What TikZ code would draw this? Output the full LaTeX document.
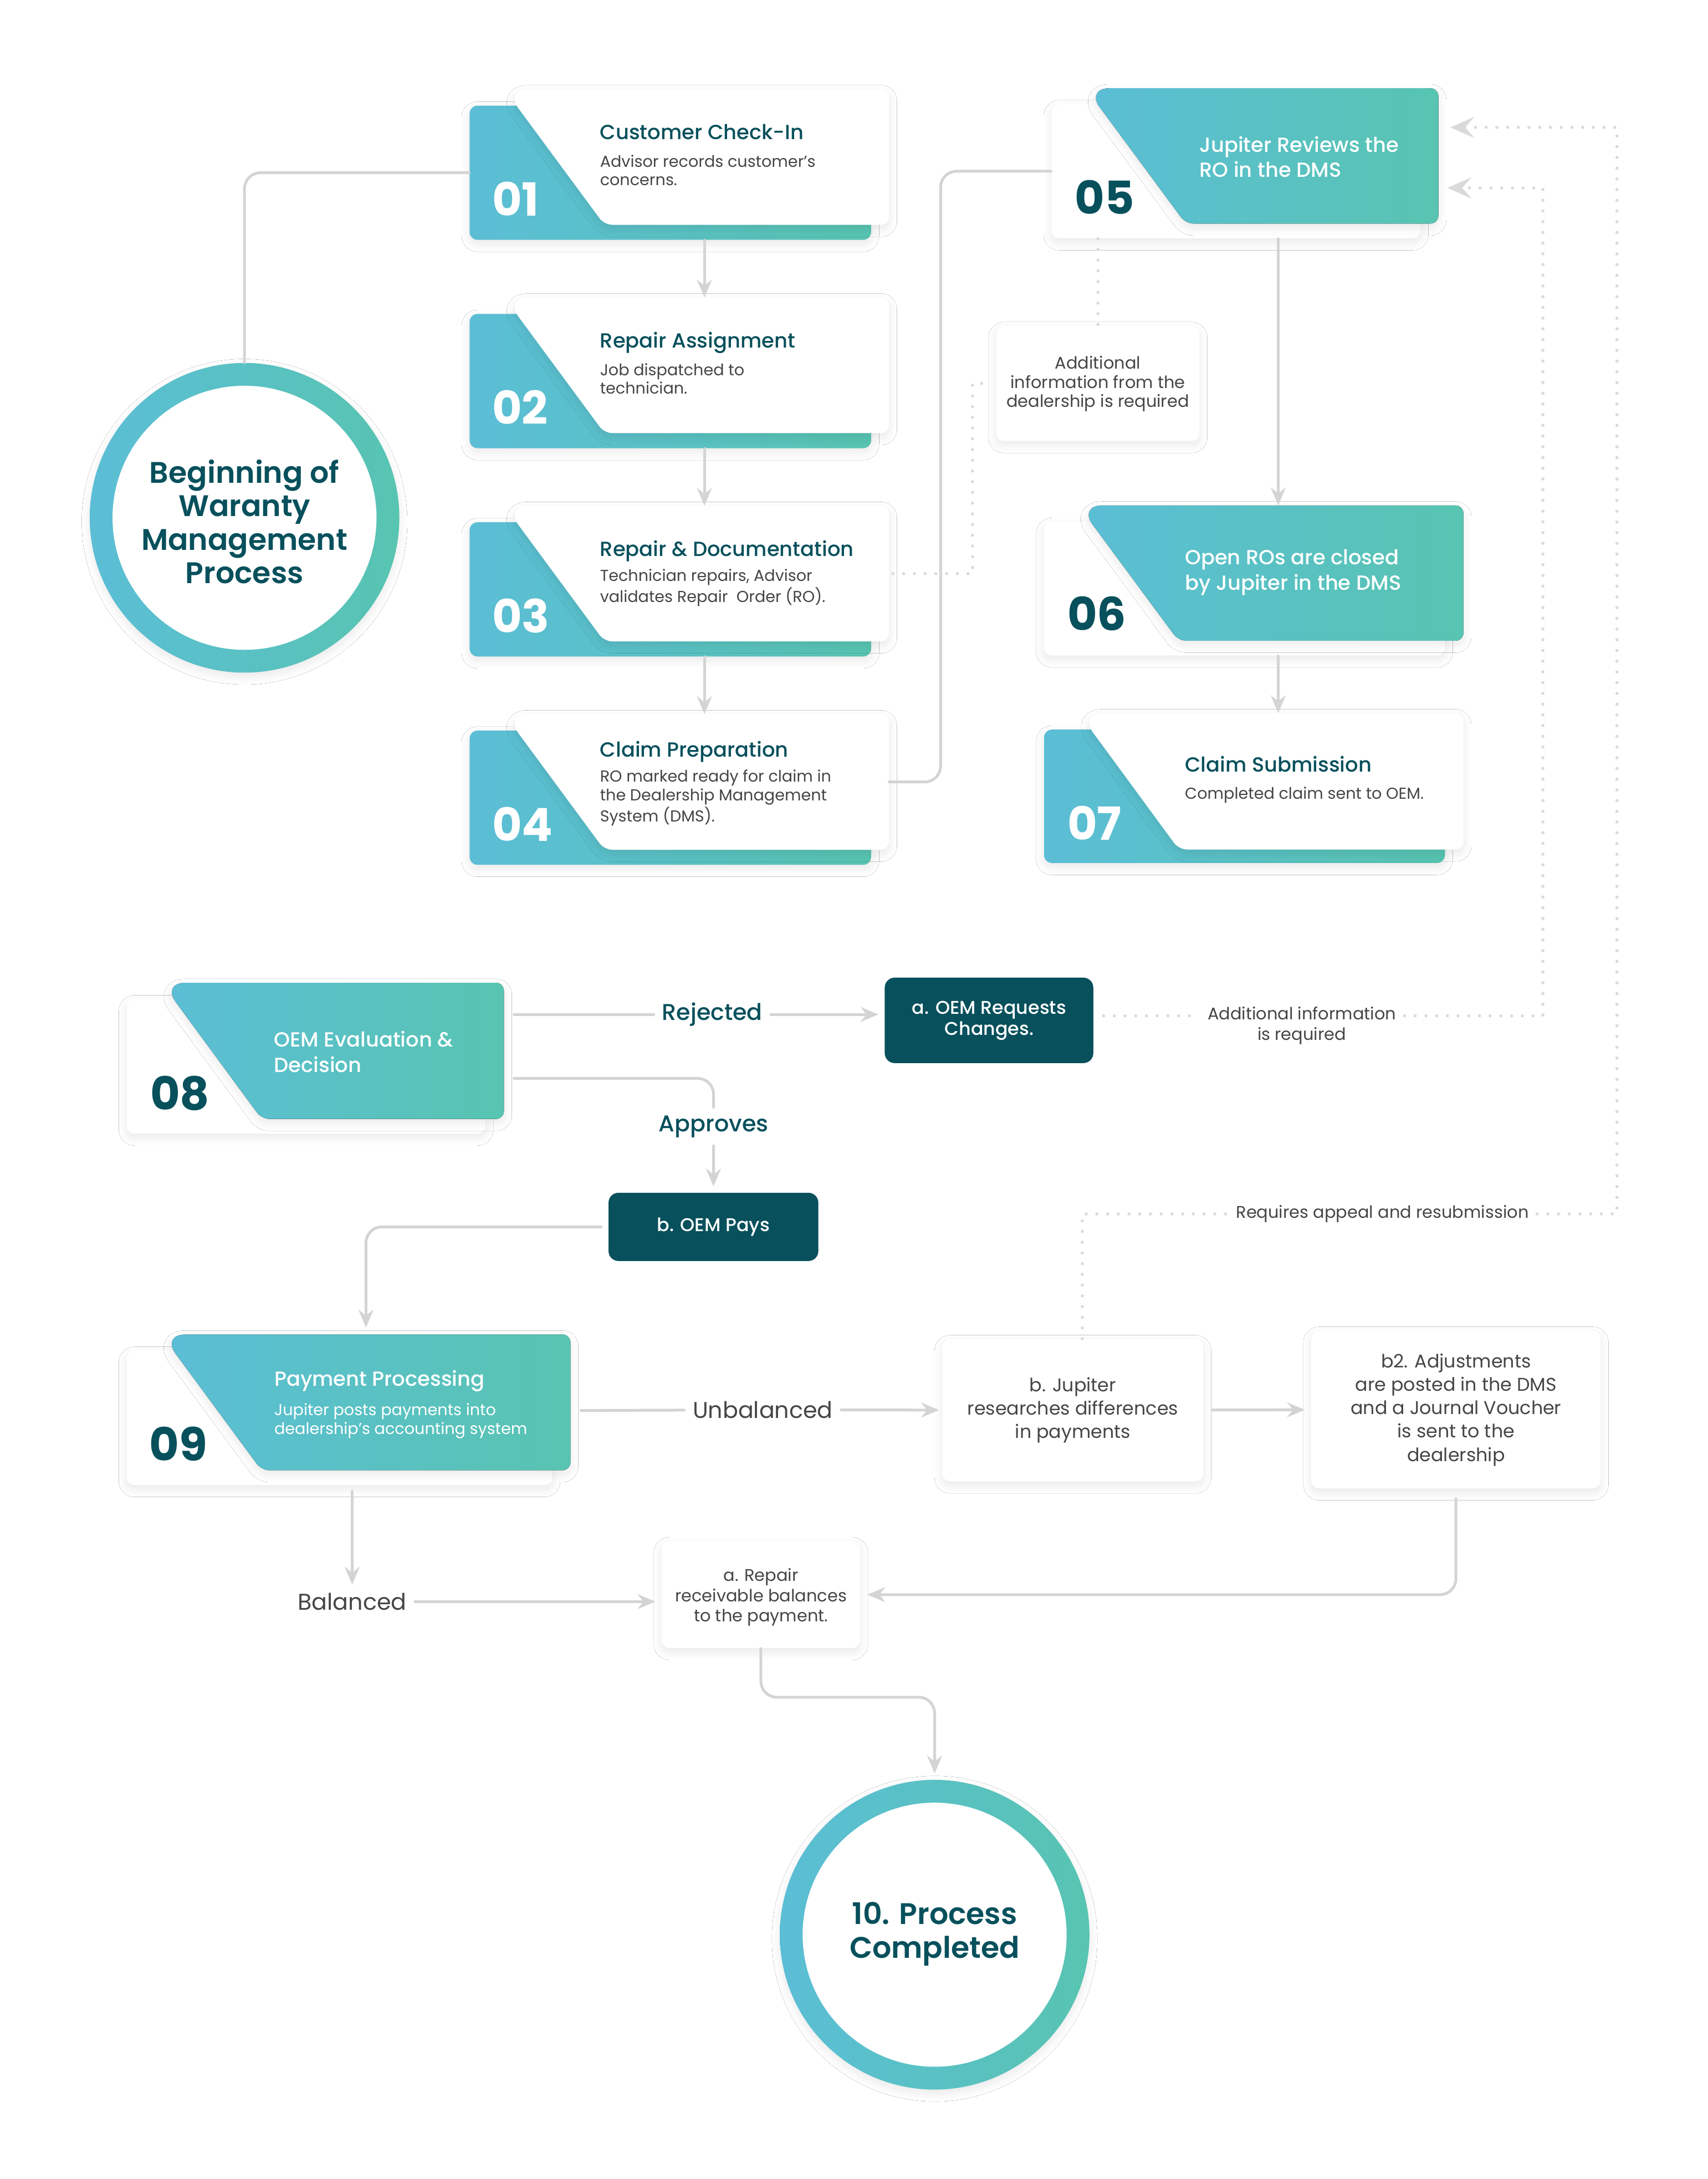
\documentclass[tikz,border=0pt]{standalone}
\usepackage{fontspec}
\setmainfont{Poppins}
\newfontfamily\medfont{Poppins Medium}
\newfontfamily\semifont{Poppins SemiBold}
\usepackage{tikz}
\usetikzlibrary{calc,positioning,fit,arrows.meta,shadows.blur}
\definecolor{FlowBlue}{HTML}{5BBED6}
\definecolor{FlowGreen}{HTML}{58C4B1}
\definecolor{FlowDark}{HTML}{07505C}
\definecolor{FlowText}{HTML}{454545}
\definecolor{FlowLine}{HTML}{D4D4D4}
\definecolor{FlowDot}{HTML}{DADADA}

\begin{document}
\begin{tikzpicture}[x=0.7pt,y=-0.7pt,line cap=round,line join=round,
  softshadow/.style={blur shadow={shadow xshift=0pt,shadow yshift=-2pt,shadow blur radius=4pt,shadow blur steps=10,shadow opacity=9}},
  backbar/.style={inner sep=0,rounded corners=4pt,left color=FlowBlue,right color=FlowGreen,softshadow},
  backcard/.style={inner sep=0,rounded corners=4pt,fill=white,softshadow},
  slotbox/.style={inner sep=0},
  facewhite/.style={fill=white,softshadow},
  faceteal/.style={left color=FlowBlue,right color=FlowGreen,softshadow},
  num/.style={anchor=base west,inner sep=0,font=\bfseries\fontsize{23}{23}\selectfont},
  ttl/.style={anchor=base west,inner sep=0,align=left,font=\medfont\fontsize{10.3}{12.7}\selectfont},
  desc/.style={anchor=base west,inner sep=0,align=left,font=\fontsize{8}{9.4}\selectfont},
  ringnode/.style={circle,inner sep=0,minimum size=156pt,left color=FlowBlue,right color=FlowGreen,softshadow},
  hub/.style={circle,inner sep=0,minimum size=133pt,fill=white},
  hubtxt/.style={anchor=base,inner sep=0,align=center,text=FlowDark,font=\semifont\fontsize{15}{16.9}\selectfont},
  darkbox/.style={inner sep=0,rounded corners=5pt,fill=FlowDark},
  darktxt/.style={anchor=base,inner sep=0,align=center,text=white,font=\medfont\fontsize{9.3}{10.6}\selectfont},
  whitebox/.style={inner sep=0,rounded corners=4pt,fill=white,softshadow},
  boxtxt/.style={anchor=base,inner sep=0,align=center,text=FlowText},
  lbl/.style={inner sep=4pt,text=FlowDark,font=\medfont\fontsize{11.5}{13}\selectfont},
  lbltwo/.style={inner sep=4pt,text=FlowText,font=\fontsize{11.5}{13}\selectfont},
  note/.style={inner sep=4pt,text=FlowText,align=center,font=\fontsize{8.5}{10.2}\selectfont},
  link/.style={draw=FlowLine,line width=1.4pt},
  arrow/.style={link,-{Stealth[length=9pt,width=7.5pt,inset=3pt]}},
  dots/.style={draw=FlowDot,line width=1.6pt,dash pattern=on 0pt off 5.4pt},
  dotarrow/.style={dots,-{Stealth[length=12pt,width=10.5pt,inset=4.5pt]}}]
  \fill[white] (0,0) rectangle (1229,1568);
  \useasboundingbox (0,0) rectangle (1229,1568);

  % start
  \node[ringnode] (start) at (176,372.6) {};
  \node[hub] (starthub) at (start) {};
  \node[hubtxt] (starttxt) at (176,419.9) {Beginning of\\Waranty\\Management\\Process};

  % left column
  \node[backbar,fit={(338,76) (627,172.6)}] (b1) {};
  \node[slotbox,fit={(363.3,64.5) (639.6,161.5)}] (f1) {};
  \fill[facewhite] ($(f1.north west)!.5!(f1.north east)$) [rounded corners=4pt] -- (f1.north east) -- (f1.south east) -- ($(f1.south west)+(72,0)$) [rounded corners=12pt] -- (f1.north west) [rounded corners=8pt] -- cycle;
  \node[num,white] (n1) at (354,155.5) {01};
  \node[ttl,FlowDark] (t1) at (431.6,100.5) {Customer Check-In};
  \node[desc,FlowText] (d1) at (431.6,133.6) {Advisor records customer’s\\concerns.};

  \node[backbar,fit={(338,225.9) (627,322.5)}] (b2) {};
  \node[slotbox,fit={(363.3,214.4) (639.6,311.4)}] (f2) {};
  \fill[facewhite] ($(f2.north west)!.5!(f2.north east)$) [rounded corners=4pt] -- (f2.north east) -- (f2.south east) -- ($(f2.south west)+(72,0)$) [rounded corners=12pt] -- (f2.north west) [rounded corners=8pt] -- cycle;
  \node[num,white] (n2) at (354,305.4) {02};
  \node[ttl,FlowDark] (t2) at (431.6,250.4) {Repair Assignment};
  \node[desc,FlowText] (d2) at (431.6,283.5) {Job dispatched to\\technician.};

  \node[backbar,fit={(338,375.8) (627,472.4)}] (b3) {};
  \node[slotbox,fit={(363.3,364.3) (639.6,461.3)}] (f3) {};
  \fill[facewhite] ($(f3.north west)!.5!(f3.north east)$) [rounded corners=4pt] -- (f3.north east) -- (f3.south east) -- ($(f3.south west)+(72,0)$) [rounded corners=12pt] -- (f3.north west) [rounded corners=8pt] -- cycle;
  \node[num,white] (n3) at (354,455.3) {03};
  \node[ttl,FlowDark] (t3) at (431.6,400.3) {Repair \& Documentation};
  \node[desc,FlowText] (d3) at (431.6,433.4) {Technician repairs, Advisor\\validates Repair \ Order (RO).};

  \node[backbar,fit={(338,525.7) (627,622.3)}] (b4) {};
  \node[slotbox,fit={(363.3,514.2) (639.6,611.2)}] (f4) {};
  \fill[facewhite] ($(f4.north west)!.5!(f4.north east)$) [rounded corners=4pt] -- (f4.north east) -- (f4.south east) -- ($(f4.south west)+(72,0)$) [rounded corners=12pt] -- (f4.north west) [rounded corners=8pt] -- cycle;
  \node[num,white] (n4) at (354,605.2) {04};
  \node[ttl,FlowDark] (t4) at (431.6,544.5) {Claim Preparation};
  \node[desc,FlowText] (d4) at (431.6,591.4) {RO marked ready for claim in\\the Dealership Management\\System (DMS).};

  % right column
  \node[backcard,fit={(756.8,75) (1022.4,171.5)}] (b5) {};
  \node[slotbox,fit={(781.7,63.8) (1035,160.6)}] (f5) {};
  \fill[faceteal] ($(f5.north west)!.5!(f5.north east)$) [rounded corners=4pt] -- (f5.north east) -- (f5.south east) -- ($(f5.south west)+(72,0)$) [rounded corners=12pt] -- (f5.north west) [rounded corners=8pt] -- cycle;
  \node[num,FlowDark] (n5) at (773.5,154.2) {05};
  \node[ttl,white] (t5) at (863,127.6) {Jupiter Reviews the\\RO in the DMS};

  \node[backcard,fit={(751.5,375.5) (1040,471.7)}] (b6) {};
  \node[slotbox,fit={(776.5,364) (1053,460.8)}] (f6) {};
  \fill[faceteal] ($(f6.north west)!.5!(f6.north east)$) [rounded corners=4pt] -- (f6.north east) -- (f6.south east) -- ($(f6.south west)+(72,0)$) [rounded corners=12pt] -- (f6.north west) [rounded corners=8pt] -- cycle;
  \node[num,FlowDark] (n6) at (768,453.8) {06};
  \node[ttl,white] (t6) at (852.6,424.6) {Open ROs are closed\\by Jupiter in the DMS};

  \node[backbar,fit={(751.5,525) (1040,621)}] (b7) {};
  \node[slotbox,fit={(776.8,513.5) (1053,611)}] (f7) {};
  \fill[facewhite] ($(f7.north west)!.5!(f7.north east)$) [rounded corners=4pt] -- (f7.north east) -- (f7.south east) -- ($(f7.south west)+(72,0)$) [rounded corners=12pt] -- (f7.north west) [rounded corners=8pt] -- cycle;
  \node[num,white] (n7) at (768,604.5) {07};
  \node[ttl,FlowDark] (t7) at (852.6,555.5) {Claim Submission};
  \node[desc,FlowText] (d7) at (852.6,575) {Completed claim sent to OEM.};

  \node[whitebox,fit={(717.2,234.6) (863.3,317.4)}] (dealerinfo) {};
  \node[boxtxt,font=\fontsize{8.5}{9.6}\selectfont] (dealertxt) at (790.2,293) {Additional\\information from the\\dealership is required};

  % decision
  \node[backcard,fit={(91.3,719) (349.3,815.8)}] (b8) {};
  \node[slotbox,fit={(116.6,707.5) (362.4,804.9)}] (f8) {};
  \fill[faceteal] ($(f8.north west)!.5!(f8.north east)$) [rounded corners=4pt] -- (f8.north east) -- (f8.south east) -- ($(f8.south west)+(72,0)$) [rounded corners=12pt] -- (f8.north west) [rounded corners=8pt] -- cycle;
  \node[num,FlowDark] (n8) at (107.9,798.6) {08};
  \node[ttl,white] (t8) at (197,771.6) {OEM Evaluation \&\\Decision};

  \node[darkbox,fit={(636.8,703.5) (786.9,765)}] (oemreq) {};
  \node[darktxt] (oemreqtxt) at (712,744.9) {a. OEM Requests\\Changes.};
  \node[darkbox,fit={(438,858.3) (589,907.4)}] (oempay) {};
  \node[darktxt] (oempaytxt) at (513.5,886.3) {b. OEM Pays};
  \node[note,anchor=base] (addlbl) at (937,748.3) {Additional information\\is required};
  \node[note] (appeallbl) at (995,873.5) {Requires appeal and resubmission};

  % payment
  \node[backcard,fit={(91.2,972) (397.5,1068.6)}] (b9) {};
  \node[slotbox,fit={(116.5,960.6) (410.3,1057.7)}] (f9) {};
  \fill[faceteal] ($(f9.north west)!.5!(f9.north east)$) [rounded corners=4pt] -- (f9.north east) -- (f9.south east) -- ($(f9.south west)+(72,0)$) [rounded corners=12pt] -- (f9.north west) [rounded corners=8pt] -- cycle;
  \node[num,FlowDark] (n9) at (107.2,1051.3) {09};
  \node[ttl,white] (t9) at (197.2,997.5) {Payment Processing};
  \node[desc,white] (d9) at (197.2,1032) {Jupiter posts payments into\\dealership’s accounting system};

  \node[whitebox,fit={(678.3,963.6) (866,1066)}] (research) {};
  \node[boxtxt,font=\fontsize{9.3}{11.7}\selectfont] (researchtxt) at (772.2,1034.7) {b. Jupiter\\researches differences\\in payments};
  \node[whitebox,fit={(943.8,957.6) (1152,1071)}] (adjust) {};
  \node[boxtxt,font=\fontsize{9.3}{11.8}\selectfont] (adjusttxt) at (1048,1051.5) {b2. Adjustments\\are posted in the DMS\\and a Journal Voucher\\is sent to the\\dealership};
  \node[whitebox,fit={(476.3,1109) (619,1186)}] (repair) {};
  \node[boxtxt,font=\fontsize{8.5}{10.2}\selectfont] (repairtxt) at (547.7,1167) {a. Repair\\receivable balances\\to the payment.};

  % end
  \node[ringnode] (end) at (672.7,1392.2) {};
  \node[hub] (endhub) at (end) {};
  \node[hubtxt] (endtxt) at (672.7,1409) {10. Process\\Completed};

  % connectors
  \coordinate (colL) at (507,0);
  \coordinate (colR) at (920,0);
  \coordinate (claimturn) at (677,0);
  \coordinate (infoturn) at (700,0);
  \coordinate (rejstart) at (370,730);
  \coordinate (apprstart) at (370,776);
  \coordinate (unbstart) at (418,1015);
  \coordinate (appealturn) at (779,873.5);
  \coordinate (reqrow) at (0,731);
  \coordinate (loopin) at (1110.5,135.2);
  \coordinate (loopout) at (1163.8,91.7);

  \draw[link,rounded corners=8pt] (start.north) |- (b1.west);
  \draw[arrow] (b1.south -| colL) -- (f2.north -| colL);
  \draw[arrow] (b2.south -| colL) -- (f3.north -| colL);
  \draw[arrow] (b3.south -| colL) -- (f4.north -| colL);
  \draw[link,rounded corners=8pt] (f4.east) -- (f4.east -| claimturn) |- (b5.west);
  \draw[arrow] (b5.south -| colR) -- (f6.north -| colR);
  \draw[arrow] (b6.south -| colR) -- (f7.north -| colR);
  \draw[dots] (b5.south -| dealerinfo.north) -- (dealerinfo.north);
  \draw[dots,shorten <=2pt,shorten >=6pt] (f3.east) -- (f3.east -| infoturn) |- (dealerinfo.west);

  \node[lbl] (rejlbl) at (512.7,730) {Rejected};
  \node[lbl] (apprlbl) at (513.6,810.6) {Approves};
  \draw[link] (rejstart) -- (rejlbl);
  \draw[arrow,shorten >=3pt] (rejlbl) -- (oemreq.west |- rejlbl);
  \draw[link,rounded corners=8pt] (apprstart) -| (apprlbl);
  \draw[arrow,shorten >=3pt] (apprlbl) -- (oempay);
  \draw[arrow,rounded corners=8pt,shorten <=3.5pt,shorten >=3.5pt] (oempay.west) -| (f9.north);

  \draw[dots,shorten <=5pt] (oemreq.east |- reqrow) -- (addlbl.west |- reqrow);
  \draw[dotarrow,shorten >=4.5pt] (addlbl.east |- reqrow) -| (loopin) -- (f5.east |- loopin);
  \draw[dots] (research.north -| appealturn) -- (appealturn) -- (appeallbl);
  \draw[dotarrow,shorten >=6pt] (appeallbl) -| (loopout) -- (f5.east |- loopout);

  \node[lbltwo] (unblbl) at (549,1014.5) {Unbalanced};
  \node[lbltwo] (ballbl) at (253.5,1152.5) {Balanced};
  \draw[link] (unbstart) -- (unblbl);
  \draw[arrow,shorten >=1.5pt] (unblbl) -- (research);
  \draw[arrow,shorten <=4.5pt,shorten >=3pt] (research) -- (adjust);
  \draw[arrow,rounded corners=8pt,shorten <=5pt,shorten >=3.5pt] (adjust.south) |- (repair.east);
  \draw[arrow,shorten <=3pt] (b9.south -| ballbl) -- (ballbl);
  \draw[arrow,shorten >=3pt] (ballbl) -- (ballbl -| repair.west);
  \draw[arrow,rounded corners=8pt,shorten >=3pt] (repair.south) -- ++(0,35) -| (end.north);
\end{tikzpicture}
\end{document}
